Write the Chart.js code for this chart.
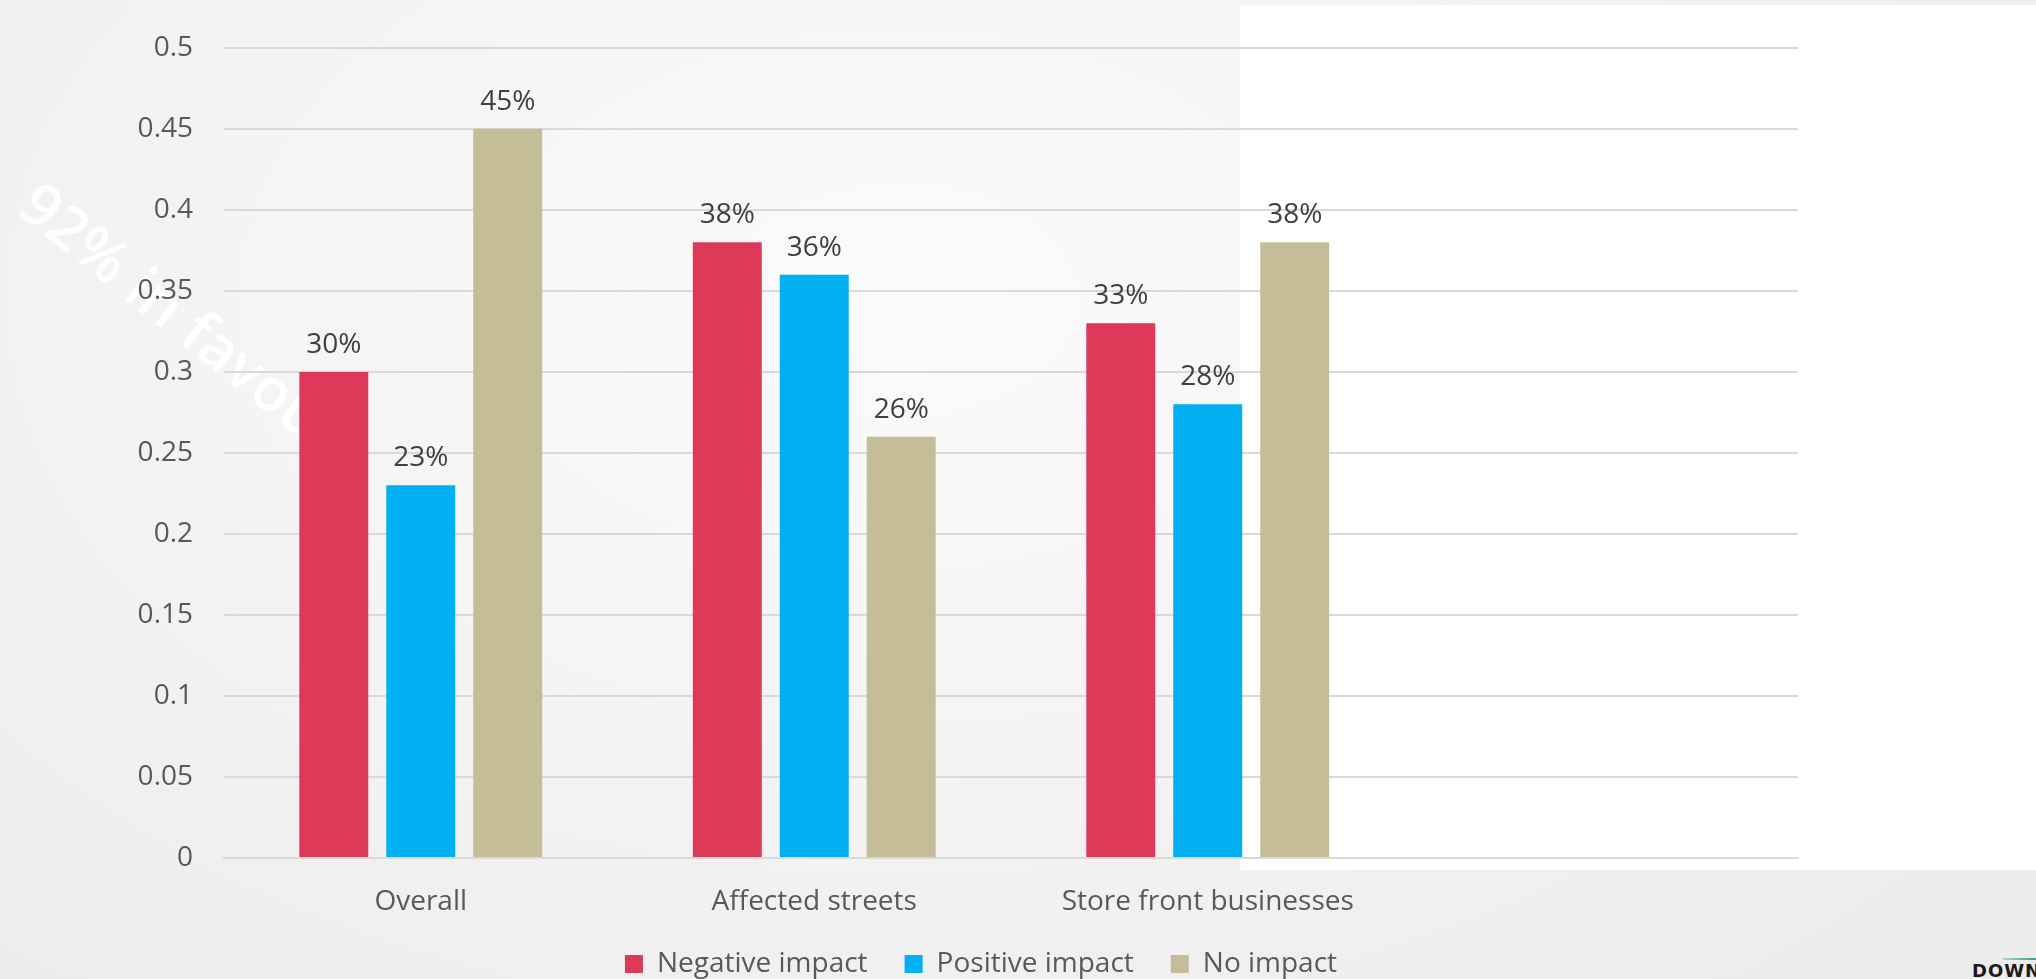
<!DOCTYPE html>
<html>
<head>
<meta charset="utf-8">
<script src="https://cdn.jsdelivr.net/npm/chart.js@4.4.1/dist/chart.umd.min.js"></script>
<style>
  html, body { margin: 0; padding: 0; }
  body {
    width: 2036px; height: 979px; overflow: hidden; position: relative;
    background: radial-gradient(ellipse 1400px 900px at 900px 300px, #fbfbfb 0%, #f3f3f3 55%, #ececec 100%);
    font-family: "Open Sans", sans-serif;
  }
  #whiteBox { position: absolute; left: 1240px; top: 5px; width: 796px; height: 865px; background: #ffffff; }
  #watermark {
    position: absolute; left: 55px; top: 162px; transform-origin: left top; transform: rotate(38.5deg);
    font-size: 60px; font-weight: 600; color: rgba(255,255,255,0.92); white-space: nowrap;
  }
  #logo { position: absolute; left: 1972px; top: 962px; font: bold 18px/18px "DejaVu Sans", sans-serif; color: #1b1b1b; letter-spacing: 1px; }
  #logoLine { position: absolute; left: 2003px; top: 958px; width: 33px; height: 2px; background: linear-gradient(to right, #a9d4cf, #3f9b90); }
  #chart { position: absolute; left: 0; top: 0; }
</style>
</head>
<body>
<div id="whiteBox"></div>
<div id="watermark">92% in favour</div>
<div id="logoLine"></div>
<div id="logo">DOWN</div>
<canvas id="chart" width="2036" height="988"></canvas>
<script>
// --- DATA ---
const categories = ['Overall', 'Affected streets', 'Store front businesses', ''];
const negativeImpact = [0.30, 0.38, 0.33, null];
const positiveImpact = [0.23, 0.36, 0.28, null];
const noImpact = [0.45, 0.26, 0.38, null];

const seriesNames = ['Negative impact', 'Positive impact', 'No impact'];
const seriesColors = ['#dd3a5a', '#00b0f0', '#c4bd97'];

// draws "30%" style labels on top of each bar
const barLabels = {
    id: 'barLabels',
    afterDatasetsDraw(chart) {
        const ctx = chart.ctx;
        ctx.save();
        ctx.font = '28px "Open Sans"';
        ctx.fillStyle = '#404040';
        ctx.textAlign = 'center';
        ctx.textBaseline = 'alphabetic';
        chart.data.datasets.forEach((ds, i) => {
            chart.getDatasetMeta(i).data.forEach((bar, j) => {
                const v = ds.data[j];
                if (v == null) return;
                ctx.fillText(Math.round(v * 100) + '%', bar.x, bar.y - 19);
            });
        });
        ctx.restore();
    }
};

// legend sits a bit right of the plot centre in the original
const shiftLegend = {
    id: 'shiftLegend',
    afterLayout(chart) {
        chart.legend.left += 82;
        chart.legend.right += 82;
    }
};

new Chart(document.getElementById('chart'), {
    type: 'bar',
    data: {
        labels: categories,
        datasets: [negativeImpact, positiveImpact, noImpact].map((d, i) => ({
            label: seriesNames[i],
            data: d,
            backgroundColor: seriesColors[i],
            categoryPercentage: 0.663,
            barPercentage: 0.793
        }))
    },
    options: {
        responsive: false,
        animation: false,
        devicePixelRatio: 1,
        layout: { padding: { left: 0, right: 238, top: 46, bottom: 0 } },
        plugins: {
            legend: {
                position: 'bottom',
                labels: {
                    font: { family: 'Open Sans', size: 28 },
                    color: '#595959',
                    boxWidth: 18,
                    boxHeight: 18,
                    padding: 37
                }
            },
            tooltip: { enabled: false }
        },
        scales: {
            x: {
                grid: { display: false, drawTicks: false },
                border: { color: '#d9d9d9', width: 2 },
                ticks: {
                    font: { family: 'Open Sans', size: 28 },
                    color: '#595959',
                    padding: 27,
                    maxRotation: 0
                },
                afterFit: (scale) => { scale.height = 55; }
            },
            y: {
                min: 0,
                max: 0.5,
                grid: { color: '#d9d9d9', lineWidth: 2, drawTicks: false },
                border: { display: false },
                ticks: {
                    stepSize: 0.05,
                    font: { family: 'Open Sans', size: 28 },
                    color: '#595959',
                    padding: 31,
                    callback: (v) => String(Number(v.toFixed(2)))
                },
                afterFit: (scale) => { scale.width = 224; }
            }
        }
    },
    plugins: [barLabels, shiftLegend]
});
</script>
</body>
</html>
